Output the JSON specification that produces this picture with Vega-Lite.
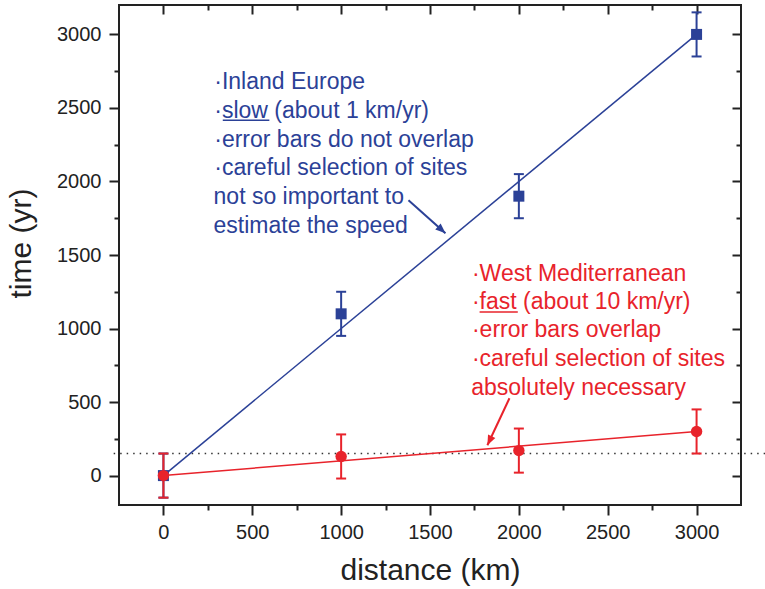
{
  "$schema": "https://vega.github.io/schema/vega-lite/v6.json",
  "width": 622,
  "height": 500,
  "autosize": "none",
  "padding": {"left": 119, "top": 5, "right": 24, "bottom": 84},
  "background": "white",
  "config": {
    "view": {"stroke": "#222222", "strokeWidth": 2},
    "axis": {
      "domain": false,
      "grid": false,
      "format": "d",
      "labelFont": "Liberation Sans",
      "labelFontSize": 20,
      "labelColor": "#222222",
      "titleFont": "Liberation Sans",
      "titleFontSize": 30,
      "titleFontWeight": "normal",
      "titleColor": "#222222",
      "tickColor": "#222222",
      "tickWidth": 2
    }
  },
  "datasets": {
    "points": [
      {"series": "Inland Europe", "distance": 0, "time": 0, "lo": -150, "hi": 150},
      {"series": "Inland Europe", "distance": 1000, "time": 1100, "lo": 950, "hi": 1250},
      {"series": "Inland Europe", "distance": 2000, "time": 1900, "lo": 1750, "hi": 2050},
      {"series": "Inland Europe", "distance": 3000, "time": 3000, "lo": 2850, "hi": 3150},
      {"series": "West Mediterranean", "distance": 0, "time": 0, "lo": -150, "hi": 150},
      {"series": "West Mediterranean", "distance": 1000, "time": 130, "lo": -20, "hi": 280},
      {"series": "West Mediterranean", "distance": 2000, "time": 170, "lo": 20, "hi": 320},
      {"series": "West Mediterranean", "distance": 3000, "time": 300, "lo": 150, "hi": 450}
    ],
    "fits": [
      {"series": "Inland Europe", "distance": 0, "time": 0},
      {"series": "Inland Europe", "distance": 3000, "time": 3000},
      {"series": "West Mediterranean", "distance": 0, "time": 0},
      {"series": "West Mediterranean", "distance": 3000, "time": 300}
    ],
    "reference": [
      {"distance": -280, "distance_end": 3390, "time": 150}
    ],
    "notes": [
      {"series": "Inland Europe", "label": "·Inland Europe", "distance": 286, "time": 2626},
      {"series": "Inland Europe", "label": "·slow (about 1 km/yr)", "distance": 286, "time": 2431},
      {"series": "Inland Europe", "label": "·error bars do not overlap", "distance": 286, "time": 2235},
      {"series": "Inland Europe", "label": "·careful selection of sites", "distance": 286, "time": 2041},
      {"series": "Inland Europe", "label": "not so important to", "distance": 282, "time": 1846},
      {"series": "Inland Europe", "label": "estimate the speed", "distance": 282, "time": 1650},
      {"series": "West Mediterranean", "label": "·West Mediterranean", "distance": 1736, "time": 1324},
      {"series": "West Mediterranean", "label": "·fast (about 10 km/yr)", "distance": 1736, "time": 1131},
      {"series": "West Mediterranean", "label": "·error bars overlap", "distance": 1736, "time": 940},
      {"series": "West Mediterranean", "label": "·careful selection of sites", "distance": 1736, "time": 744},
      {"series": "West Mediterranean", "label": "absolutely necessary", "distance": 1732, "time": 546}
    ],
    "underlines": [
      {"series": "Inland Europe", "distance": 334, "distance_end": 596, "time": 2417},
      {"series": "West Mediterranean", "distance": 1779, "distance_end": 1994, "time": 1113}
    ],
    "arrows": [
      {"series": "Inland Europe", "distance": 1379, "time": 1873, "distance_end": 1587, "time_end": 1648},
      {"series": "West Mediterranean", "distance": 1947, "time": 526, "distance_end": 1823, "time_end": 206}
    ]
  },
  "resolve": {"axis": {"x": "independent", "y": "independent"}},
  "layer": [
    {
      "data": {"name": "reference"},
      "mark": {"type": "rule", "color": "#333333", "strokeWidth": 1.5, "strokeDash": [1.5, 5]},
      "encoding": {
        "x": {"field": "distance", "type": "quantitative", "scale": {"domain": [-250, 3250], "nice": false, "zero": false},
              "axis": {"orient": "bottom", "values": [0, 500, 1000, 1500, 2000, 2500, 3000], "tickSize": 10, "labelPadding": 7, "title": "distance (km)", "titleBaseline": "alphabetic", "titleY": 74, "titleX": 311}},
        "x2": {"field": "distance_end"},
        "y": {"field": "time", "type": "quantitative", "scale": {"domain": [-200, 3200], "nice": false, "zero": false},
              "axis": {"orient": "left", "values": [0, 500, 1000, 1500, 2000, 2500, 3000], "tickSize": 10, "labelPadding": 8, "title": "time (yr)", "titleBaseline": "alphabetic", "titleX": -89, "titleY": 238, "titleAngle": -90}}
      }
    },
    {
      "data": {"name": "fits"},
      "mark": {"type": "line", "strokeWidth": 1.5},
      "encoding": {
        "x": {"field": "distance", "type": "quantitative", "scale": {"domain": [-250, 3250], "nice": false, "zero": false},
              "axis": {"orient": "bottom", "values": [250, 750, 1250, 1750, 2250, 2750], "tickSize": 5, "labels": false, "title": null}},
        "y": {"field": "time", "type": "quantitative", "scale": {"domain": [-200, 3200], "nice": false, "zero": false},
              "axis": {"orient": "left", "values": [250, 750, 1250, 1750, 2250, 2750], "tickSize": 5, "labels": false, "title": null}},
        "color": {"field": "series", "type": "nominal", "scale": {"domain": ["Inland Europe", "West Mediterranean"], "range": ["#2b4197", "#e8232b"]}, "legend": null}
      }
    },
    {
      "data": {"name": "points"},
      "mark": {"type": "rule", "strokeWidth": 2},
      "encoding": {
        "x": {"field": "distance", "type": "quantitative", "scale": {"domain": [-250, 3250], "nice": false, "zero": false},
              "axis": {"orient": "top", "values": [0, 500, 1000, 1500, 2000, 2500, 3000], "tickSize": -9, "labels": false, "title": null}},
        "y": {"field": "lo", "type": "quantitative", "scale": {"domain": [-200, 3200], "nice": false, "zero": false},
              "axis": {"orient": "right", "values": [0, 500, 1000, 1500, 2000, 2500, 3000], "tickSize": -9, "labels": false, "title": null}},
        "y2": {"field": "hi"},
        "color": {"field": "series", "type": "nominal", "scale": {"domain": ["Inland Europe", "West Mediterranean"], "range": ["#2b4197", "#e8232b"]}, "legend": null}
      }
    },
    {
      "data": {"name": "points"},
      "mark": {"type": "tick", "orient": "horizontal", "size": 10, "thickness": 2, "opacity": 1},
      "encoding": {
        "x": {"field": "distance", "type": "quantitative", "scale": {"domain": [-250, 3250], "nice": false, "zero": false},
              "axis": {"orient": "top", "values": [250, 750, 1250, 1750, 2250, 2750], "tickSize": -5, "labels": false, "title": null}},
        "y": {"field": "lo", "type": "quantitative", "scale": {"domain": [-200, 3200], "nice": false, "zero": false},
              "axis": {"orient": "right", "values": [250, 750, 1250, 1750, 2250, 2750], "tickSize": -5, "labels": false, "title": null}},
        "color": {"field": "series", "type": "nominal", "scale": {"domain": ["Inland Europe", "West Mediterranean"], "range": ["#2b4197", "#e8232b"]}, "legend": null}
      }
    },
    {
      "data": {"name": "points"},
      "mark": {"type": "tick", "orient": "horizontal", "size": 10, "thickness": 2, "opacity": 1},
      "encoding": {
        "x": {"field": "distance", "type": "quantitative", "scale": {"domain": [-250, 3250], "nice": false, "zero": false}, "axis": null},
        "y": {"field": "hi", "type": "quantitative", "scale": {"domain": [-200, 3200], "nice": false, "zero": false}, "axis": null},
        "color": {"field": "series", "type": "nominal", "scale": {"domain": ["Inland Europe", "West Mediterranean"], "range": ["#2b4197", "#e8232b"]}, "legend": null}
      }
    },
    {
      "data": {"name": "points"},
      "transform": [{"filter": "datum.series === 'Inland Europe'"}],
      "mark": {"type": "point", "shape": "square", "filled": true, "size": 121, "opacity": 1},
      "encoding": {
        "x": {"field": "distance", "type": "quantitative", "scale": {"domain": [-250, 3250], "nice": false, "zero": false}, "axis": null},
        "y": {"field": "time", "type": "quantitative", "scale": {"domain": [-200, 3200], "nice": false, "zero": false}, "axis": null},
        "color": {"field": "series", "type": "nominal", "scale": {"domain": ["Inland Europe", "West Mediterranean"], "range": ["#2b4197", "#e8232b"]}, "legend": null}
      }
    },
    {
      "data": {"name": "points"},
      "transform": [{"filter": "datum.series === 'West Mediterranean'"}],
      "mark": {"type": "point", "shape": "circle", "filled": true, "size": 130, "opacity": 1},
      "encoding": {
        "x": {"field": "distance", "type": "quantitative", "scale": {"domain": [-250, 3250], "nice": false, "zero": false}, "axis": null},
        "y": {"field": "time", "type": "quantitative", "scale": {"domain": [-200, 3200], "nice": false, "zero": false}, "axis": null},
        "color": {"field": "series", "type": "nominal", "scale": {"domain": ["Inland Europe", "West Mediterranean"], "range": ["#2b4197", "#e8232b"]}, "legend": null}
      }
    },
    {
      "data": {"name": "notes"},
      "mark": {"type": "text", "align": "left", "baseline": "alphabetic", "font": "Liberation Sans", "fontSize": 23},
      "encoding": {
        "x": {"field": "distance", "type": "quantitative", "scale": {"domain": [-250, 3250], "nice": false, "zero": false}, "axis": null},
        "y": {"field": "time", "type": "quantitative", "scale": {"domain": [-200, 3200], "nice": false, "zero": false}, "axis": null},
        "text": {"field": "label"},
        "color": {"field": "series", "type": "nominal", "scale": {"domain": ["Inland Europe", "West Mediterranean"], "range": ["#2b4197", "#e8232b"]}, "legend": null}
      }
    },
    {
      "data": {"name": "underlines"},
      "mark": {"type": "rule", "strokeWidth": 1.5},
      "encoding": {
        "x": {"field": "distance", "type": "quantitative", "scale": {"domain": [-250, 3250], "nice": false, "zero": false}, "axis": null},
        "x2": {"field": "distance_end"},
        "y": {"field": "time", "type": "quantitative", "scale": {"domain": [-200, 3200], "nice": false, "zero": false}, "axis": null},
        "color": {"field": "series", "type": "nominal", "scale": {"domain": ["Inland Europe", "West Mediterranean"], "range": ["#2b4197", "#e8232b"]}, "legend": null}
      }
    },
    {
      "data": {"name": "arrows"},
      "mark": {"type": "rule", "strokeWidth": 2},
      "encoding": {
        "x": {"field": "distance", "type": "quantitative", "scale": {"domain": [-250, 3250], "nice": false, "zero": false}, "axis": null},
        "x2": {"field": "distance_end"},
        "y": {"field": "time", "type": "quantitative", "scale": {"domain": [-200, 3200], "nice": false, "zero": false}, "axis": null},
        "y2": {"field": "time_end"},
        "color": {"field": "series", "type": "nominal", "scale": {"domain": ["Inland Europe", "West Mediterranean"], "range": ["#2b4197", "#e8232b"]}, "legend": null}
      }
    },
    {
      "data": {"name": "arrows"},
      "transform": [{"filter": "datum.series === 'Inland Europe'"}],
      "mark": {"type": "point", "shape": "M0,0 L-0.6,1.5 L0.6,1.5 Z", "filled": true, "size": 180, "angle": 131.7, "opacity": 1},
      "encoding": {
        "x": {"field": "distance_end", "type": "quantitative", "scale": {"domain": [-250, 3250], "nice": false, "zero": false}, "axis": null},
        "y": {"field": "time_end", "type": "quantitative", "scale": {"domain": [-200, 3200], "nice": false, "zero": false}, "axis": null},
        "color": {"field": "series", "type": "nominal", "scale": {"domain": ["Inland Europe", "West Mediterranean"], "range": ["#2b4197", "#e8232b"]}, "legend": null}
      }
    },
    {
      "data": {"name": "arrows"},
      "transform": [{"filter": "datum.series === 'West Mediterranean'"}],
      "mark": {"type": "point", "shape": "M0,0 L-0.6,1.5 L0.6,1.5 Z", "filled": true, "size": 180, "angle": 205.2, "opacity": 1},
      "encoding": {
        "x": {"field": "distance_end", "type": "quantitative", "scale": {"domain": [-250, 3250], "nice": false, "zero": false}, "axis": null},
        "y": {"field": "time_end", "type": "quantitative", "scale": {"domain": [-200, 3200], "nice": false, "zero": false}, "axis": null},
        "color": {"field": "series", "type": "nominal", "scale": {"domain": ["Inland Europe", "West Mediterranean"], "range": ["#2b4197", "#e8232b"]}, "legend": null}
      }
    }
  ]
}
